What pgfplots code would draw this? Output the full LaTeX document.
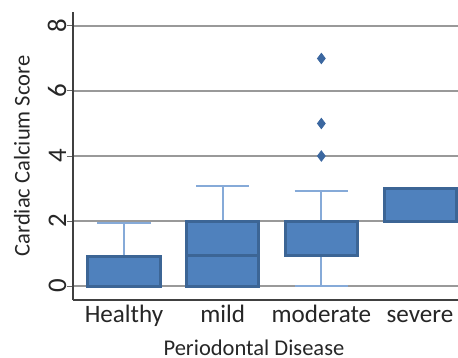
\documentclass[border=0pt]{standalone}
\usepackage{pgfplots}
\pgfplotsset{compat=1.18}
\usepgfplotslibrary{statistics}
\usepackage{fontspec}
\setmainfont{Carlito}
\definecolor{fillc}{HTML}{4F81BD}
\definecolor{edgec}{HTML}{3C6595}
\definecolor{whc}{HTML}{86AAD8}
\definecolor{outc}{HTML}{3B67A0}
\definecolor{txt}{HTML}{262626}
\begin{document}
\begin{tikzpicture}
\begin{axis}[
  name=ax, at={(0,0)}, anchor=south west,
  scale only axis, width=192.5bp, height=144bp,
  xmin=0.483, xmax=4.385, ymin=-0.43, ymax=8.43,
  axis x line=bottom, axis y line=left,
  axis line style={-, draw=black!75, line width=0.6bp},
  xtick={1,2,3,4},
  xticklabels={Healthy, mild, moderate, severe},
  major x tick style={draw=none},
  ytick={0,2,4,6,8},
  tick align=outside,
  major y tick style={draw=black!60, line width=0.5bp},
  major tick length=3bp,
  ymajorgrids,
  major grid style={draw=black!40, line width=0.7bp},
  yticklabel style={rotate=90, anchor=south, yshift=-1.3bp, font=\fontsize{13.5}{15}\selectfont, text=txt, inner sep=1.5bp},
  xticklabel style={font=\fontsize{12.6}{14}\selectfont, text=txt, anchor=base, yshift=-8bp},
  /pgf/number format/assume math mode=true,
  ylabel={Cardiac Calcium Score},
  xlabel={Periodontal Disease},
  label style={font=\fontsize{11.3}{13}\selectfont, text=txt},
  ylabel style={at={(axis description cs:-0.1325,0.5)}, anchor=center, rotate=0},
  xlabel style={at={(axis description cs:0.47,-0.191)}, anchor=base},
  clip=false,
  boxplot/draw direction=y,
  boxplot/box extend=0.73,
  boxplot/whisker extend=0.54,
  boxplot/every box/.style={draw=edgec, fill=fillc, line width=1.5bp},
  boxplot/every whisker/.style={draw=whc, line width=1bp},
  boxplot/every median/.style={draw=edgec, line width=1.5bp},
]
\addplot[boxplot prepared={draw position=1, lower whisker=0, lower quartile=0, median=0, upper quartile=0.9, upper whisker=1.95}] coordinates {};
\addplot[boxplot prepared={draw position=2, lower whisker=0, lower quartile=0, median=0.95, upper quartile=2, upper whisker=3.08}] coordinates {};
\addplot[boxplot prepared={draw position=3, lower whisker=0, lower quartile=0.95, median=0.95, upper quartile=2, upper whisker=2.93}, mark=diamond*, mark size=2.6bp, mark options={fill=outc, draw=outc}] coordinates {(0,4) (0,5) (0,7)};
\addplot[boxplot prepared={draw position=4, lower whisker=2, lower quartile=2, median=2, upper quartile=3, upper whisker=3}] coordinates {};
\end{axis}
\pgfresetboundingbox
\path[use as bounding box] (-36.5bp,-29bp) rectangle (192.5bp,150bp);
\end{tikzpicture}
\end{document}
